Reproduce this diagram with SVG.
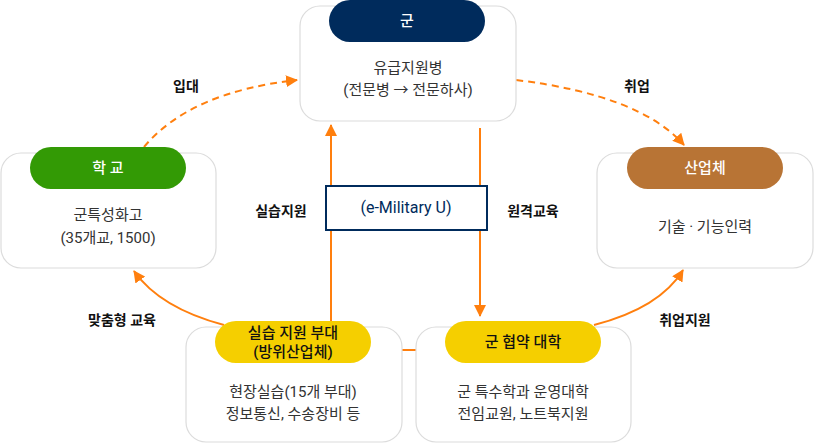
<svg xmlns="http://www.w3.org/2000/svg" width="814" height="444" viewBox="0 0 814 444">
<defs>
<marker id="ah" viewBox="0 0 12 12" refX="11" refY="6" markerWidth="12" markerHeight="12" markerUnits="userSpaceOnUse" orient="auto">
<path d="M0,0 L12,6 L0,12 Z" fill="#ff7f0e"/>
</marker>
<style>
text{font-family:Roboto,"Noto Sans CJK KR","Noto Sans",sans-serif;text-anchor:middle;dominant-baseline:central}
.box{fill:#fff;stroke:#dcdcdc;stroke-width:1.2}
.pt{fill:#fff;font-size:15px;font-weight:500}
.pd{fill:#111;font-size:15px;font-weight:500}
.body{fill:#333;font-size:15px}
.lbl{fill:#111;font-size:14px;font-weight:700}
.c{fill:none;stroke:#ff7f0e;stroke-width:2}
.d{stroke-dasharray:7 5}
</style>
</defs>
<g id="connectors">
<path class="c d" d="M144,147 Q190,92 297,80" marker-end="url(#ah)"/>
<path class="c d" d="M516,80 Q640,95 684,145" marker-end="url(#ah)"/>
<path class="c" d="M224,325 Q160,308 134,271" marker-end="url(#ah)"/>
<path class="c" d="M594,325 Q660,308 683,270" marker-end="url(#ah)"/>
<path class="c" d="M331,321 L331,125" marker-end="url(#ah)"/>
<path class="c" d="M480,128 L480,316" marker-end="url(#ah)"/>
<path class="c" d="M402,350 L416,350"/>
<text class="lbl" x="186" y="86">입대</text>
<text class="lbl" x="637" y="86">취업</text>
<text class="lbl" x="281" y="211">실습지원</text>
<text class="lbl" x="533" y="211">원격교육</text>
<text class="lbl" x="122" y="320">맞춤형 교육</text>
<text class="lbl" x="685" y="320">취업지원</text>
</g>
<g id="army">
<rect class="box" x="300" y="6" width="216" height="115" rx="20"/>
<rect x="329" y="0" width="156" height="42" rx="21" fill="#002b5c"/>
<text class="pt" x="407" y="21">군</text>
<text class="body" x="408" y="68">유급지원병</text>
<text class="body" x="408" y="90">(전문병 → 전문하사)</text>
</g>
<g id="school">
<rect class="box" x="1" y="153" width="215" height="115" rx="20"/>
<rect x="30" y="147" width="156" height="42" rx="21" fill="#339a05"/>
<text class="pt" x="108" y="168">학 교</text>
<text class="body" x="108" y="215">군특성화고</text>
<text class="body" x="108" y="238">(35개교, 1500)</text>
</g>
<g id="industry">
<rect class="box" x="597" y="153" width="216" height="115" rx="20"/>
<rect x="627" y="147" width="156" height="42" rx="21" fill="#b87435"/>
<text class="pt" x="705" y="168">산업체</text>
<text class="body" x="705" y="227">기술 · 기능인력</text>
</g>
<g id="emu">
<rect x="326" y="186" width="161" height="44" fill="#fff" stroke="#002b5c" stroke-width="2"/>
<text x="406" y="207" style="fill:#002b5c;font-size:16px">(e-Military U)</text>
</g>
<g id="unit">
<rect class="box" x="186" y="327" width="216" height="115" rx="20"/>
<rect x="215" y="321" width="156" height="42" rx="21" fill="#f5cf00"/>
<text class="pd" x="293" y="333">실습 지원 부대</text>
<text class="pd" x="293" y="352">(방위산업체)</text>
<text class="body" x="293" y="392">현장실습(15개 부대)</text>
<text class="body" x="293" y="414">정보통신, 수송장비 등</text>
</g>
<g id="univ">
<rect class="box" x="416" y="327" width="215" height="115" rx="20"/>
<rect x="445" y="321" width="156" height="42" rx="21" fill="#f5cf00"/>
<text class="pd" x="523" y="342">군 협약 대학</text>
<text class="body" x="523" y="392">군 특수학과 운영대학</text>
<text class="body" x="523" y="414">전임교원, 노트북지원</text>
</g>
</svg>
